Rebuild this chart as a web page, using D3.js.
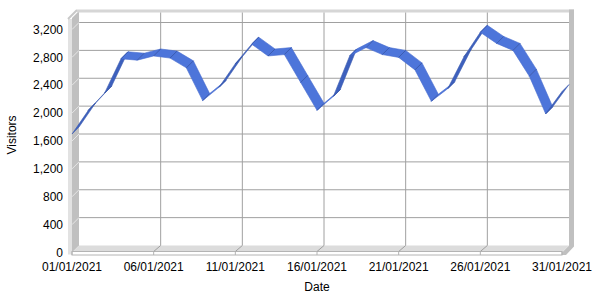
<!DOCTYPE html>
<html lang="en">
<head>
    <meta charset="UTF-8">
    <title>Visitors</title>
    <script src="https://d3js.org/d3.v7.min.js"></script>
    <style>
        body { margin: 0; background: #fff; }
        text { font-family: "Liberation Sans", Arial, sans-serif; font-size: 12px; fill: #000; }
    </style>
</head>
<body>
    <div id="chart"></div>
    <script>

        // one value per day, 01/01/2021 .. 31/01/2021
        const startDate = new Date(2021, 0, 1);
        const endDate = new Date(2021, 0, 31);
        const dates = d3.timeDay.range(startDate, d3.timeDay.offset(endDate, 1));
        const visitors = [
            1700, 2040, 2290, 2780, 2760, 2820, 2790, 2650, 2180, 2370,
            2710, 2990, 2820, 2840, 2440, 2040, 2240, 2820, 2940, 2840,
            2800, 2620, 2170, 2350, 2810, 3160, 3000, 2900, 2530, 1990,
            2310
        ];
        const yTicks = [0, 400, 800, 1200, 1600, 2000, 2400, 2800, 3200];
        const xTicks = ["01/01/2021", "06/01/2021", "11/01/2021", "16/01/2021",
            "21/01/2021", "26/01/2021", "31/01/2021"];

        const width = 600, height = 300;
        const depth = 7;          // wall depth (px, up-right)
        const rib = 7;            // ribbon depth
        const wallTop = 11;

        const parse = d3.timeParse("%d/%m/%Y");

        // front plane scales
        const x = d3.scaleTime().domain([startDate, endDate]).range([72, 562]);
        const y = d3.scaleLinear().domain([0, 3200]).range([252.5, 29.5]);

        const svg = d3.select("#chart").append("svg")
            .attr("width", width)
            .attr("height", height);

        const x0 = x.range()[0], x1 = x.range()[1], y0 = y(0);

        // back wall
        svg.append("rect")
            .attr("x", x0 + depth).attr("y", wallTop)
            .attr("width", x1 - x0).attr("height", y0 - depth - wallTop)
            .attr("fill", "#fff");

        // left wall
        svg.append("rect")
            .attr("x", x0 - 4).attr("y", wallTop + depth + 1)
            .attr("width", 4).attr("height", y0 - wallTop - depth + 1)
            .attr("fill", "#e2e2e2");
        svg.append("polygon")
            .attr("points", [[x0, wallTop + depth], [x0 + depth, wallTop], [x0 + depth, y0 - depth], [x0, y0]].join(" "))
            .attr("fill", "#c0c0c0");
        svg.append("line")
            .attr("x1", x0 - 4).attr("y1", wallTop + depth + 1)
            .attr("x2", x0 + depth - 2).attr("y2", wallTop - 1)
            .attr("stroke", "#c8c8c8").attr("stroke-width", 2);

        // top rim and right edge
        svg.append("rect")
            .attr("x", x0 + depth - 2).attr("y", wallTop - 1.5)
            .attr("width", x1 - x0 + 7).attr("height", 3)
            .attr("fill", "#d6d6d6");
        svg.append("polygon")
            .attr("points", [[x1 + depth, wallTop - 1.5], [x1 + depth + 5, wallTop - 1.5], [x1 + depth + 5, y0 - depth + 1],
                [x1 + 4, y0 + 2.5], [x1, y0 + 2.5], [x1, y0], [x1 + depth, y0 - depth]].join(" "))
            .attr("fill", "#c0c0c0");

        // floor
        svg.append("polygon")
            .attr("points", [[x0, y0], [x0 + depth, y0 - depth], [x1 + depth, y0 - depth], [x1, y0]].join(" "))
            .attr("fill", "#dcdcdc");
        svg.append("rect")
            .attr("x", x0).attr("y", y0 - 1)
            .attr("width", x1 - x0).attr("height", 3.5)
            .attr("fill", "#fff").attr("stroke", "#b4b4b4").attr("stroke-width", 1);

        // horizontal grid on back wall + diagonals on left wall
        yTicks.filter(v => v > 0).forEach(v => {
            svg.append("line")
                .attr("x1", x0 + depth).attr("x2", x1 + depth)
                .attr("y1", y(v) - depth).attr("y2", y(v) - depth)
                .attr("stroke", "#a0a0a0");
            svg.append("line")
                .attr("x1", x0).attr("y1", y(v))
                .attr("x2", x0 + depth).attr("y2", y(v) - depth)
                .attr("stroke", "#e6e6e6");
        });

        // vertical grid on back wall + diagonals on floor
        xTicks.forEach((t, i) => {
            const xf = x(parse(t));
            if (i > 0 && i < xTicks.length - 1) {
                svg.append("line")
                    .attr("x1", xf + depth).attr("x2", xf + depth)
                    .attr("y1", wallTop + 1.5).attr("y2", y0 - depth)
                    .attr("stroke", "#a0a0a0");
                svg.append("line")
                    .attr("x1", xf + depth).attr("y1", y0 - depth)
                    .attr("x2", xf).attr("y2", y0 - 1)
                    .attr("stroke", "#a0a0a0");
            }
            svg.append("line")
                .attr("x1", xf).attr("x2", xf)
                .attr("y1", y0 - 1).attr("y2", y0 + 2.5)
                .attr("stroke", "#b4b4b4");
            svg.append("text")
                .attr("x", xf).attr("y", 271)
                .attr("text-anchor", "middle")
                .text(t);
        });

        // y labels
        yTicks.forEach(v => {
            svg.append("text")
                .attr("x", 63).attr("y", y(v))
                .attr("dy", "0.35em")
                .attr("text-anchor", "end")
                .text(d3.format(",")(v));
        });

        // ribbon
        const pts = dates.map((d, i) => [x(d), y(visitors[i])]);
        for (let i = 0; i < pts.length - 1; i++) {
            const p0 = pts[i], p1 = pts[i + 1];
            const cross = (p1[0] - p0[0]) * (-rib) - (p1[1] - p0[1]) * rib;
            const quad = [p0, p1, [p1[0] + rib, p1[1] - rib], [p0[0] + rib, p0[1] - rib]];
            svg.append("polygon")
                .attr("points", quad.join(" "))
                .attr("fill", cross < 0 ? "#4d75da" : "#3d60bd")
                .attr("stroke", cross < 0 ? "#466cce" : "#3a5ab0")
                .attr("stroke-width", 0.6);
        }
        pts.slice(1, -1).forEach(p => {
            svg.append("line")
                .attr("x1", p[0]).attr("y1", p[1])
                .attr("x2", p[0] + rib).attr("y2", p[1] - rib)
                .attr("stroke", "#3656a8").attr("stroke-width", 0.8);
        });

        // axis titles
        svg.append("text")
            .attr("x", 317).attr("y", 291)
            .attr("text-anchor", "middle")
            .text("Date");
        svg.append("text")
            .attr("transform", "translate(16,135) rotate(-90)")
            .attr("text-anchor", "middle")
            .text("Visitors");

    </script>
</body>
</html>
